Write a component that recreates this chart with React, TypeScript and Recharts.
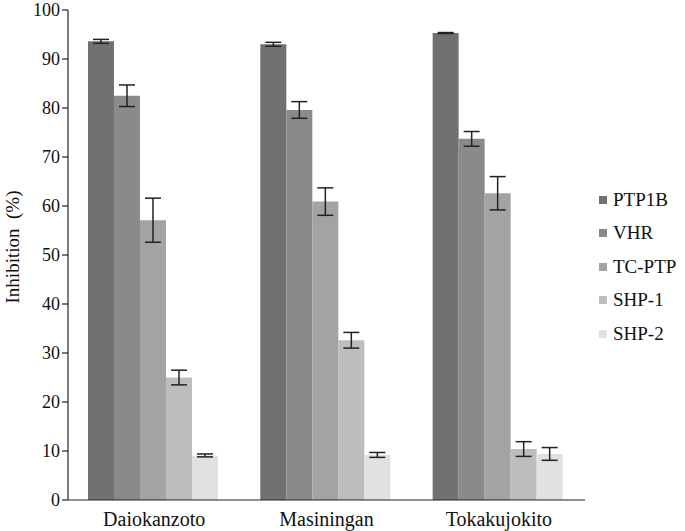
import React from 'react';
import { BarChart, Bar, XAxis, YAxis, ErrorBar } from 'recharts';

const categories = ['Daiokanzoto', 'Masiningan', 'Tokakujokito'];
const ptp1b = [93.6, 93.0, 95.3];
const ptp1bErr = [0.4, 0.4, 0.1];
const vhr = [82.5, 79.6, 73.7];
const vhrErr = [2.2, 1.7, 1.5];
const tcptp = [57.1, 60.9, 62.6];
const tcptpErr = [4.5, 2.8, 3.4];
const shp1 = [25.0, 32.6, 10.4];
const shp1Err = [1.5, 1.6, 1.5];
const shp2 = [9.1, 9.2, 9.4];
const shp2Err = [0.3, 0.5, 1.3];
const yTicks = [0, 10, 20, 30, 40, 50, 60, 70, 80, 90, 100];
const boundaryTicks = [0, 1, 2, 3];

const series = [
  { key: 'ptp1b', name: 'PTP1B', color: '#717171' },
  { key: 'vhr', name: 'VHR', color: '#8a8a8a' },
  { key: 'tcptp', name: 'TC-PTP', color: '#a3a3a3' },
  { key: 'shp1', name: 'SHP-1', color: '#bdbdbd' },
  { key: 'shp2', name: 'SHP-2', color: '#e1e1e1' },
];

const data = categories.map((name, i) => ({
  name,
  ptp1b: ptp1b[i], ptp1bErr: ptp1bErr[i],
  vhr: vhr[i], vhrErr: vhrErr[i],
  tcptp: tcptp[i], tcptpErr: tcptpErr[i],
  shp1: shp1[i], shp1Err: shp1Err[i],
  shp2: shp2[i], shp2Err: shp2Err[i],
}));

const font = 'Liberation Serif';

export default function App() {
  return (
    <div style={{ position: 'absolute', left: 0, top: 0, width: 685, height: 531, background: '#fff', fontFamily: font }}>
      <BarChart
        width={685}
        height={531}
        data={data}
        margin={{ top: 10, right: 100, left: 0, bottom: 0 }}
        barCategoryGap="11.6%"
        barGap={0}
      >
        <XAxis
          xAxisId="bounds"
          type="number"
          domain={[0, 3]}
          ticks={boundaryTicks}
          tick={false}
          tickSize={6}
          axisLine={false}
          tickLine={{ stroke: '#222', strokeWidth: 1.2 }}
          height={0}
        />
        <XAxis
          dataKey="name"
          height={31}
          tickLine={false}
          axisLine={{ stroke: '#222', strokeWidth: 1.2 }}
          tick={{ fill: '#111', fontSize: 20, fontFamily: font }}
          dy={4}
        />
        <YAxis
          domain={[0, 100]}
          ticks={yTicks}
          width={68}
          interval={0}
          tickSize={6}
          axisLine={{ stroke: '#222', strokeWidth: 1.2 }}
          tickLine={{ stroke: '#222', strokeWidth: 1.2 }}
          tick={{ fill: '#111', fontSize: 18, fontFamily: font }}
          label={{
            content: () => (
              <text
                x={12}
                y={247}
                transform="rotate(-90 12 247)"
                textAnchor="middle"
                dominantBaseline="central"
                fill="#111"
                fontSize={19}
                fontFamily={font}
              >
                {'Inhibition\u00a0\u00a0(%)'}
              </text>
            ),
          }}
        />
        {series.map((s) => (
          <Bar key={s.key} dataKey={s.key} name={s.name} fill={s.color} isAnimationActive={false}>
            <ErrorBar
              dataKey={`${s.key}Err`}
              width={8}
              stroke="#222"
              strokeWidth={1.5}
              direction="y"
              isAnimationActive={false}
            />
          </Bar>
        ))}
      </BarChart>
      <div style={{ position: 'absolute', left: 599, top: 183, fontSize: 19, color: '#111' }}>
        {series.map((s) => (
          <div key={s.key} style={{ height: 33.5, display: 'flex', alignItems: 'center' }}>
            <span style={{ width: 8, height: 8, background: s.color, display: 'inline-block', marginRight: 6 }} />
            <span>{s.name}</span>
          </div>
        ))}
      </div>
    </div>
  );
}
